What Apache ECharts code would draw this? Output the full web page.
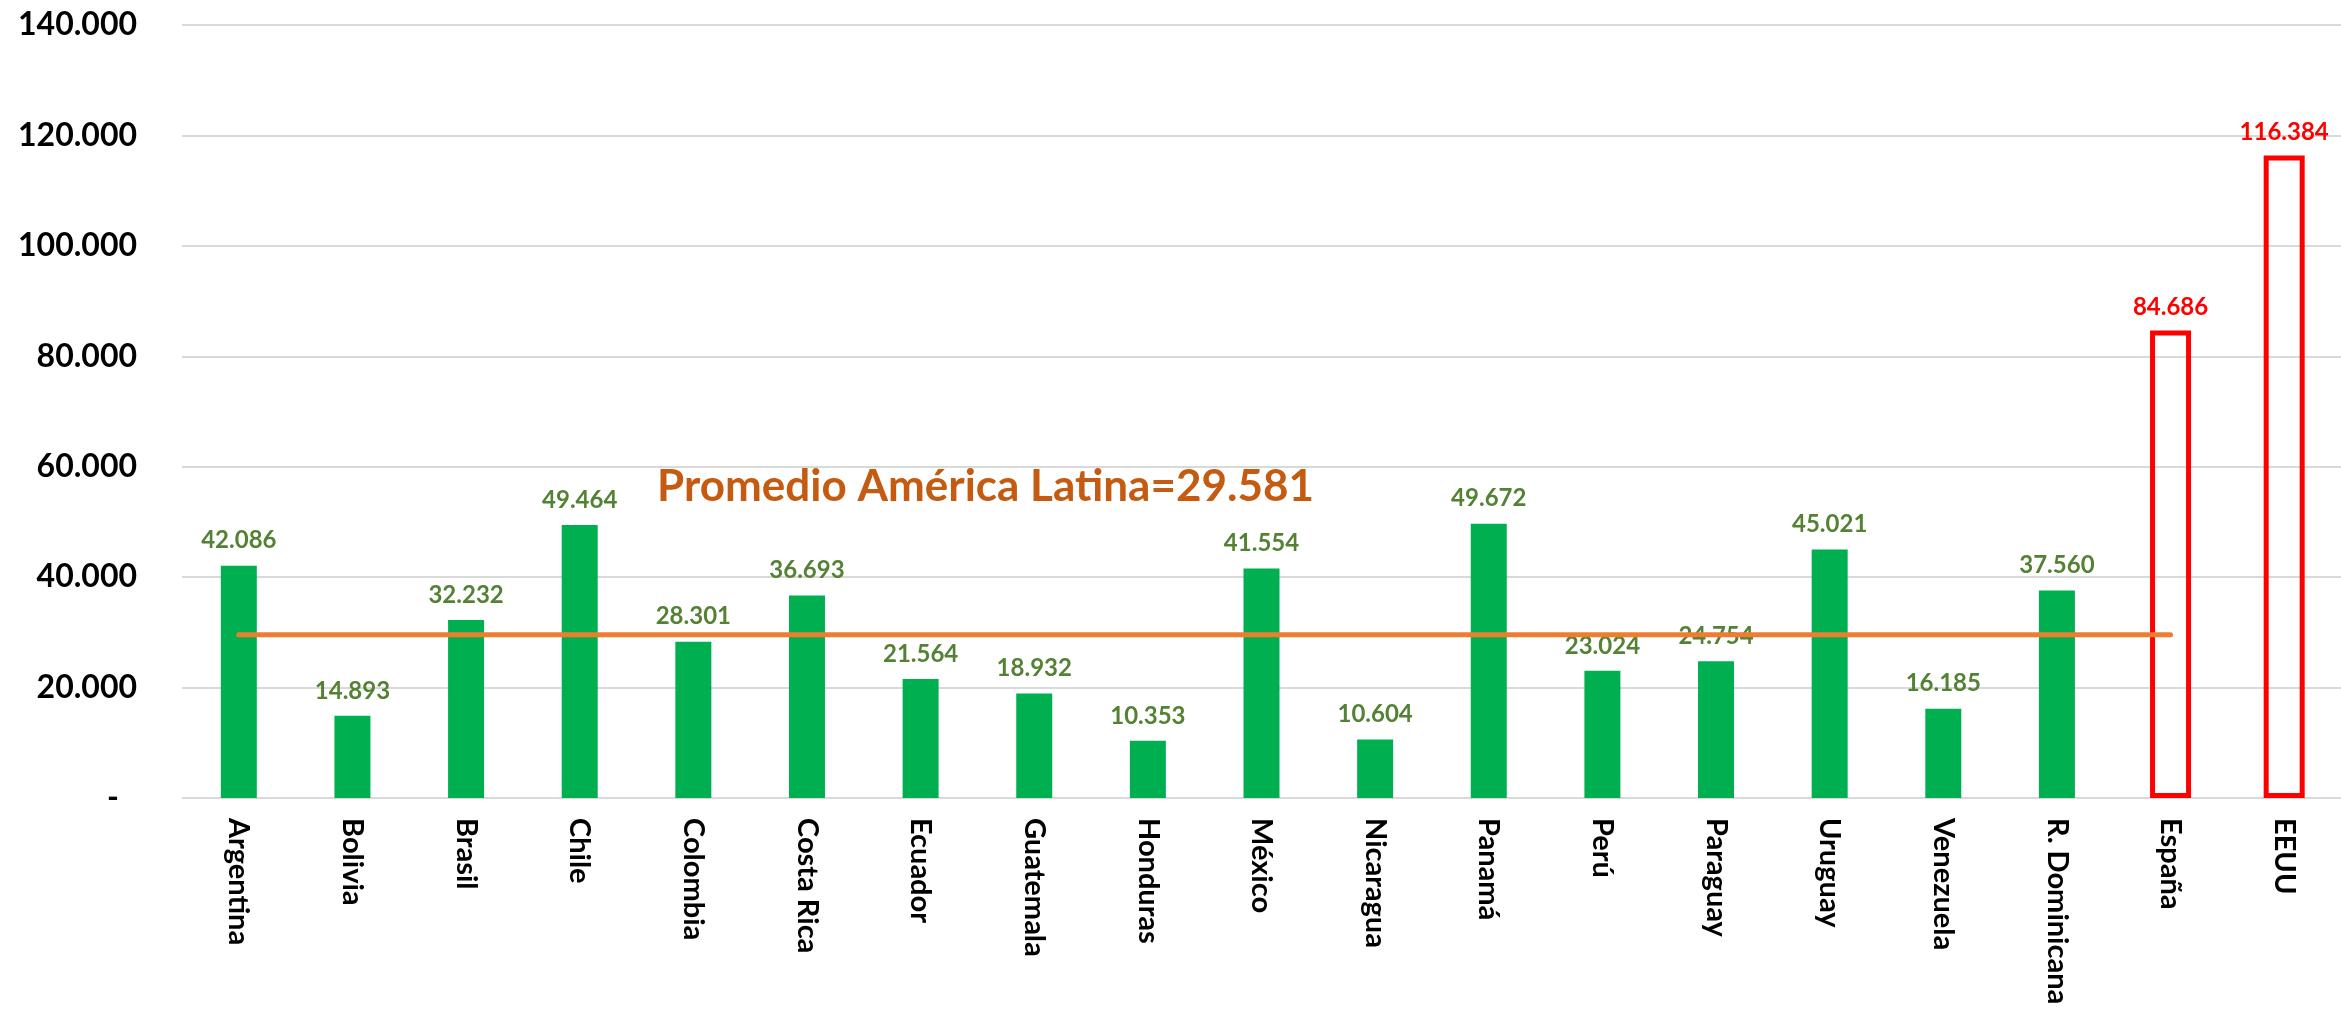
<!DOCTYPE html>
<html>
<head>
<meta charset="utf-8">
<script src="https://cdn.jsdelivr.net/npm/echarts@6/dist/echarts.min.js"></script>
<style>
  html, body { margin: 0; padding: 0; background: #fff; }
  #chart { width: 2341px; height: 1012px; }
</style>
</head>
<body>
<div id="chart"></div>
<script>
// Countries (Latin America first, then reference countries)
const latamCountries = ['Argentina', 'Bolivia', 'Brasil', 'Chile', 'Colombia', 'Costa Rica', 'Ecuador',
  'Guatemala', 'Honduras', 'México', 'Nicaragua', 'Panamá', 'Perú', 'Paraguay', 'Uruguay',
  'Venezuela', 'R. Dominicana'];
const latamValues = [42086, 14893, 32232, 49464, 28301, 36693, 21564, 18932, 10353, 41554,
  10604, 49672, 23024, 24754, 45021, 16185, 37560];

const refCountries = ['España', 'EEUU'];
const refValues = [84686, 116384];

const latamAverage = 29581;
const averageLabel = 'Promedio América Latina=29.581';

const yTicks = [0, 20000, 40000, 60000, 80000, 100000, 120000, 140000];

const categories = latamCountries.concat(refCountries);

// thousands with a dot, Spanish style
function fmt(v) {
  return Math.round(v).toString().replace(/\B(?=(\d{3})+(?!\d))/g, '.');
}

const latamData = latamValues.concat(refCountries.map(() => null));
const refData = latamCountries.map(() => null).concat(refValues);

// average line runs over Latin America plus España, not EEUU
const lineData = categories.map((c, i) => i <= latamCountries.length ? latamAverage : null);

const labelBase = {
  show: true,
  position: 'top',
  distance: 13,
  fontFamily: 'Lato',
  fontWeight: 'bold',
  fontSize: 24,
  formatter: p => fmt(p.value)
};

const chart = echarts.init(document.getElementById('chart'));

chart.setOption({
  animation: false,
  backgroundColor: '#fff',
  grid: { left: 182, right: -11, top: 25, bottom: 214 },
  xAxis: [
    {
      type: 'category',
      data: categories,
      axisLine: { show: false },
      axisTick: { show: false },
      axisLabel: {
        rotate: -90,
        interval: 0,
        margin: 20,
        color: '#000',
        fontFamily: 'Lato',
        fontWeight: 'bold',
        fontSize: 29
      }
    },
    // hidden twin axis so the wider outlined bars centre on their own
    { type: 'category', data: categories, show: false }
  ],
  yAxis: {
    type: 'value',
    min: yTicks[0],
    max: yTicks[yTicks.length - 1],
    interval: 20000,
    axisLine: { show: false },
    axisTick: { show: false },
    splitLine: { lineStyle: { color: '#D9D9D9', width: 2 } },
    axisLabel: {
      margin: 45,
      color: '#000',
      fontFamily: 'Lato',
      fontWeight: 'bold',
      fontSize: 32,
      formatter: v => v === 0 ? '{z|-}' : fmt(v),
      rich: {
        z: { fontFamily: 'Lato', fontWeight: 'bold', fontSize: 32, color: '#000', padding: [0, 18, 0, 0] }
      }
    }
  },
  series: [
    {
      type: 'bar',
      data: latamData,
      barWidth: 36,
      itemStyle: { color: '#00B050' },
      label: Object.assign({}, labelBase, { color: '#548235' }),
      z: 2
    },
    {
      type: 'bar',
      xAxisIndex: 1,
      data: refData,
      barWidth: 41,
      itemStyle: { color: 'rgba(255,255,255,0)', borderColor: '#FF0000', borderWidth: 5 },
      label: Object.assign({}, labelBase, { color: '#FF0000', distance: 11 }),
      z: 2
    },
    {
      type: 'line',
      data: lineData,
      symbol: 'none',
      lineStyle: { color: '#ED7D31', width: 5, cap: 'round' },
      z: 3
    }
  ],
  graphic: [{
    type: 'text',
    left: 657,
    top: 465,
    style: {
      text: averageLabel,
      fill: '#C55A11',
      fontFamily: 'Lato',
      fontWeight: 'bold',
      fontSize: 44
    }
  }]
});
</script>
</body>
</html>
